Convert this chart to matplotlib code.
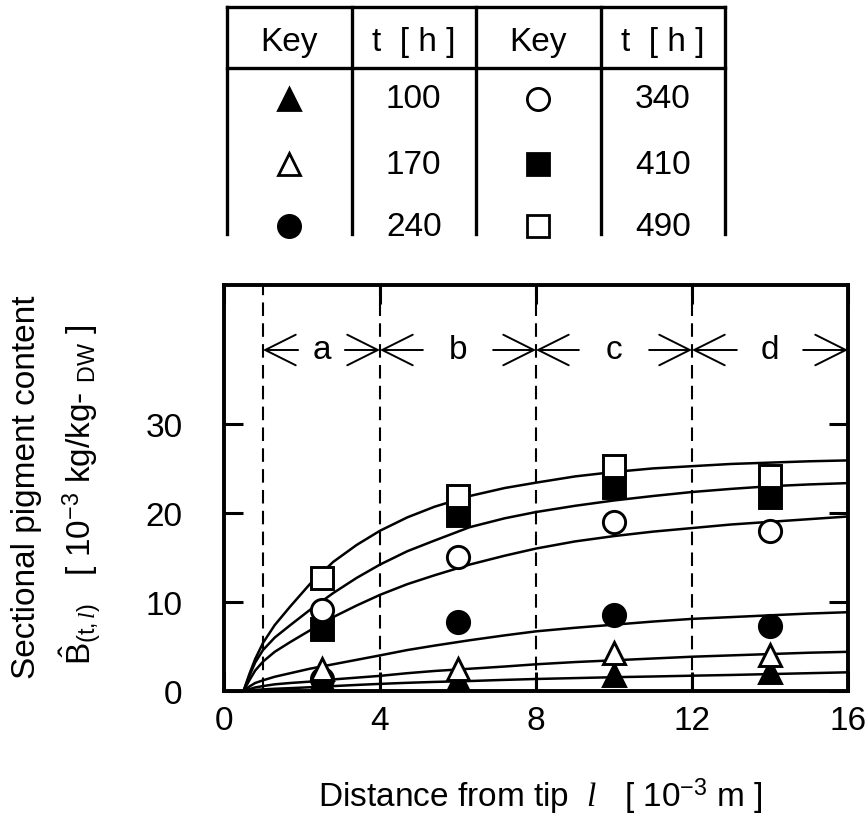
import numpy as np
import matplotlib.pyplot as plt

plt.rcParams['font.family'] = ['Liberation Sans', 'DejaVu Sans']
plt.rcParams['mathtext.fontset'] = 'custom'
plt.rcParams['mathtext.rm'] = 'Liberation Sans'
plt.rcParams['mathtext.it'] = 'Liberation Serif:italic'
plt.rcParams['mathtext.bf'] = 'Liberation Sans:bold'

# measured points
x_pts = [2.5, 6, 10, 14]
y_100 = [1.3, 1.2, 1.8, 2.1]
y_170 = [2.5, 2.5, 4.3, 4.0]
y_240 = [1.3, 7.8, 8.5, 7.3]
y_340 = [9.1, 15.1, 19.0, 18.0]
y_410 = [7.0, 19.8, 22.9, 21.8]
y_490 = [12.7, 21.9, 25.3, 24.2]

# model curves
curve_x = [0.5, 0.65, 0.8, 1.0, 1.3, 1.7, 2.2, 2.8, 3.4, 4.0, 4.7, 5.4,
           6.3, 7.2, 8.0, 9.0, 10.0, 11.0, 12.0, 13.0, 14.0, 15.0, 16.0]
c_100 = [0, 0.07, 0.12, 0.18, 0.25, 0.32, 0.42, 0.55, 0.68, 0.8, 0.92, 1.02,
         1.12, 1.25, 1.35, 1.45, 1.55, 1.63, 1.72, 1.8, 1.9, 2.0, 2.1]
c_170 = [0, 0.2, 0.4, 0.55, 0.75, 0.9, 1.05, 1.3, 1.5, 1.7, 2.0, 2.25,
         2.5, 2.75, 3.0, 3.25, 3.45, 3.65, 3.85, 4.0, 4.15, 4.3, 4.4]
c_240 = [0, 0.5, 0.9, 1.2, 1.6, 2.0, 2.5, 3.0, 3.5, 4.0, 4.6, 5.1,
         5.7, 6.25, 6.7, 7.1, 7.45, 7.8, 8.1, 8.3, 8.5, 8.7, 8.85]
c_340 = [0, 1.2, 2.3, 3.3, 4.4, 5.5, 6.8, 8.3, 9.6, 10.8, 12.0, 13.0,
         14.2, 15.2, 16.0, 16.8, 17.4, 17.9, 18.3, 18.7, 19.0, 19.3, 19.6]
c_410 = [0, 1.7, 3.2, 4.6, 6.0, 7.4, 9.1, 11.0, 12.7, 14.2, 15.7, 16.9,
         18.4, 19.4, 20.1, 20.8, 21.4, 21.9, 22.35, 22.7, 23.0, 23.2, 23.35]
c_490 = [0, 1.9, 3.6, 5.4, 7.4, 9.5, 12.0, 14.5, 16.4, 18.0, 19.5, 20.7,
         21.9, 22.8, 23.4, 24.1, 24.6, 25.0, 25.25, 25.5, 25.65, 25.8, 25.9]

times = [100, 170, 240, 340, 410, 490]
markers = ['^', '^', 'o', 'o', 's', 's']
filled = [True, False, True, False, True, False]
points = [y_100, y_170, y_240, y_340, y_410, y_490]
curves = [c_100, c_170, c_240, c_340, c_410, c_490]

# sections a-d
bounds = [1, 4, 8, 12, 16]
sec_labels = ['a', 'b', 'c', 'd']
sec_gap = [0.6, 0.9, 0.9, 0.85]

W, H = 867, 820
fig = plt.figure(figsize=(W / 100, H / 100), dpi=100)


def box(x0, y0, x1, y1):
    return [x0 / W, 1 - y1 / H, (x1 - x0) / W, (y1 - y0) / H]


ax = fig.add_axes(box(224, 286, 848, 692))
ax.set_xlim(0, 16)
ax.set_ylim(0, 45.6)

for c in curves:
    ax.plot(curve_x, c, color='black', lw=1.8, zorder=2)

for yv, m, f in zip(points, markers, filled):
    ax.plot(x_pts, yv, ls='none', marker=m, ms=16, mew=2.1,
            mec='black', mfc='black' if f else 'white',
            zorder=3 if f else 4)

for b in bounds[:-1]:
    ax.axvline(b, color='black', lw=1.5, ls=(0, (6.5, 3.5)), zorder=1)

y_arr = 38.3
for i, lab in enumerate(sec_labels):
    lo, hi = bounds[i], bounds[i + 1]
    mid = (lo + hi) / 2
    g = sec_gap[i]
    ax.text(mid, y_arr, lab, ha='center', va='center', fontsize=24)
    for end, start in [(lo, mid - g), (hi, mid + g)]:
        ax.annotate('', xy=(end, y_arr), xytext=(start, y_arr),
                    arrowprops=dict(arrowstyle='->,head_length=1.1,head_width=0.55',
                                    lw=1.4, color='black', shrinkA=0, shrinkB=0,
                                    mutation_scale=20))

for s in ax.spines.values():
    s.set_linewidth(2.8)
ax.set_xticks([0, 4, 8, 12, 16])
ax.set_yticks([0, 10, 20, 30])
ax.tick_params(direction='in', length=14, width=2.2, top=True, right=True,
               labelsize=24)
ax.tick_params(axis='x', pad=10)
ax.tick_params(axis='y', pad=30)

fig.text(540 / W, 1 - 797 / H,
         r'Distance from tip  $\mathit{l}$   [ 10$^{-3}$ m ]',
         ha='center', va='center', fontsize=24)
fig.text(27 / W, 1 - 487 / H, 'Sectional pigment content',
         rotation=90, ha='center', va='center', fontsize=24)
fig.text(80 / W, 1 - 495 / H,
         r'$\hat{\mathrm{B}}_{\mathrm{(t,}\mathit{l}\mathrm{)}}$   [ 10$^{-3}$ kg/kg- $_{\mathrm{DW}}$ ]',
         rotation=90, ha='center', va='center', fontsize=24)

# key table
tax = fig.add_axes(box(227, 8, 725, 235))
tax.set_xlim(0, 4)
tax.set_ylim(227, 0)
tax.axis('off')
for cx in range(5):
    tax.plot([cx, cx], [0, 227], color='black', lw=2.4, clip_on=False)
for ry in [0, 61]:
    tax.plot([0, 4], [ry, ry], color='black', lw=2.4, clip_on=False)
headers = ['Key', 't  [ h ]', 'Key', 't  [ h ]']
for i, h in enumerate(headers):
    tax.text(i + 0.5, 34, h, ha='center', va='center', fontsize=24)
row_y = [92, 157, 219]
for k in range(6):
    col = 0 if k < 3 else 2
    ry = row_y[k % 3]
    tax.plot(col + 0.5, ry, marker=markers[k], ms=16, mew=2, mec='black',
             mfc='black' if filled[k] else 'white', clip_on=False)
    tax.text(col + 1.5, ry, str(times[k]), ha='center', va='center',
             fontsize=24)

fig.savefig('out.png', dpi=100)
